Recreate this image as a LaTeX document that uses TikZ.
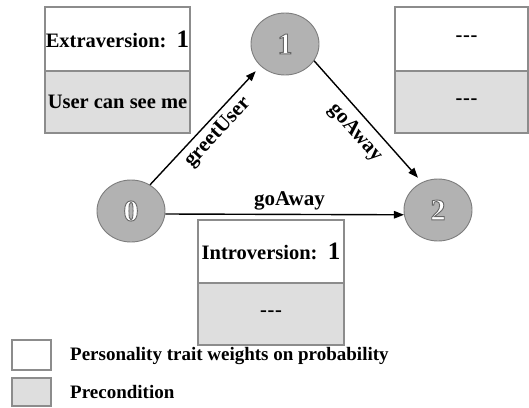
\documentclass[tikz,border=0pt]{standalone}
\usepackage{fontspec}
\setmainfont{Liberation Serif}
\usetikzlibrary{arrows.meta,shapes.geometric}
\definecolor{boxgray}{RGB}{222,222,222}
\definecolor{circfill}{RGB}{178,178,178}
\definecolor{circline}{RGB}{125,125,125}
\definecolor{framecol}{RGB}{140,140,140}
\newcommand{\bigone}{{\fontsize{25}{25}\selectfont 1}}
\newcommand{\tripdash}{-\kern0.6pt-\kern0.6pt-}
\newcommand{\outlinedigit}[1]{\special{pdf:literal direct 2 Tr 0.9 w 0.4 G}#1\special{pdf:literal direct 0 Tr 0 G}}
\begin{document}
\begin{tikzpicture}[x=1pt,y=-1pt,
  boxtxt/.style={font=\fontsize{20.5}{24}\selectfont\bfseries},
  whitebox/.style={draw=framecol,line width=1.1pt,fill=white,inner sep=0pt,boxtxt},
  graybox/.style={draw=framecol,line width=1.1pt,fill=boxgray,inner sep=0pt,boxtxt},
  state/.style={ellipse,draw=circline,line width=0.9pt,fill=circfill,minimum width=68pt,minimum height=62pt,inner sep=0pt,
    font=\fontsize{30}{30}\selectfont\bfseries,text=white},
  arr/.style={line width=1.4pt,-{Triangle[length=10pt,width=7.5pt]}},
  lbl/.style={font=\fontsize{21}{21}\selectfont\bfseries},
  legtxt/.style={font=\fontsize{19}{22}\selectfont\bfseries,anchor=west,inner sep=0pt}
]
\useasboundingbox (0,0) rectangle (529,407);

% precondition / weight boxes
\node[whitebox,minimum width=145pt,minimum height=64pt] (extw) at (117.5,39) {Extraversion:\ \ \bigone};
\node[graybox,minimum width=145pt,minimum height=62pt] (extg) at (117.5,102) {User can see me};

\node[whitebox,minimum width=133pt,minimum height=64pt] (rw) at (461.5,39) {\hspace{10pt}\tripdash};
\node[graybox,minimum width=133pt,minimum height=62pt] (rg) at (461.5,102) {\hspace{10pt}\tripdash};

\node[whitebox,minimum width=146pt,minimum height=63pt] (inw) at (271,251.5) {Introversion:\ \ \bigone};
\node[graybox,minimum width=146pt,minimum height=62pt] (ing) at (271,314) {\tripdash};

% states
\node[state] (n0) at (131,211) {\outlinedigit{0}};
\node[state] (n1) at (285,44) {\outlinedigit{1}};
\node[state] (n2) at (438,210) {\outlinedigit{2}};

% transitions
\draw[arr,shorten >=7pt] (n0.54) -- (n1.222) node[lbl,pos=0.52,sloped,below=1pt] {greetUser};
\draw[arr,shorten >=6pt] (n1.-30) -- (n2.120) node[lbl,pos=0.5,sloped,below=4pt] {goAway};
\draw[arr] (n0.-5) -- (n2.188) node[lbl,pos=0.52,above] {goAway};

% legend
\node[whitebox,minimum width=39pt,minimum height=30pt] (legw) at (31.5,355) {};
\node[graybox,minimum width=39pt,minimum height=28pt] (legg) at (31.5,392) {};
\node[legtxt] (legwt) at (70,356) {Personality trait weights on probability};
\node[legtxt] (leggt) at (70,392) {Precondition};
\end{tikzpicture}
\end{document}
